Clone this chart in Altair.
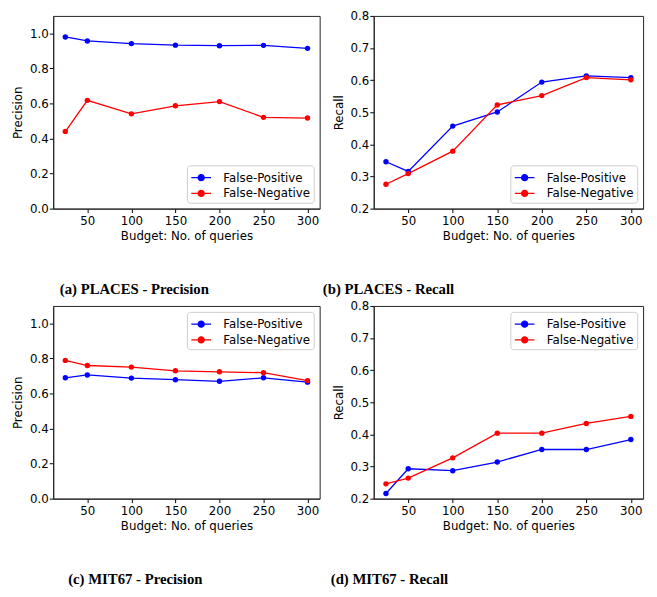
import altair as alt
import pandas as pd

budget = [25, 50, 100, 150, 200, 250, 300]
series = ["False-Positive", "False-Negative"]
colors = ["#0000ff", "#ff0000"]

places_prec_fp = [0.980, 0.957, 0.942, 0.933, 0.930, 0.932, 0.915]
places_prec_fn = [0.440, 0.618, 0.541, 0.587, 0.611, 0.521, 0.517]
places_rec_fp = [0.346, 0.316, 0.457, 0.501, 0.594, 0.613, 0.608]
places_rec_fn = [0.276, 0.309, 0.379, 0.523, 0.552, 0.608, 0.601]
mit_prec_fp = [0.690, 0.706, 0.688, 0.679, 0.670, 0.690, 0.665]
mit_prec_fn = [0.789, 0.760, 0.751, 0.730, 0.724, 0.719, 0.674]
mit_rec_fp = [0.216, 0.293, 0.287, 0.314, 0.353, 0.353, 0.384]
mit_rec_fn = [0.246, 0.264, 0.327, 0.404, 0.404, 0.434, 0.456]

x_ticks = [50, 100, 150, 200, 250, 300]
prec_ticks = [0.0, 0.2, 0.4, 0.6, 0.8, 1.0]
rec_ticks = [0.2, 0.3, 0.4, 0.5, 0.6, 0.7, 0.8]

SYMBOL = "M-1.18,0L1.18,0M-0.36,0A0.36,0.36,0,1,1,0.36,0A0.36,0.36,0,1,1,-0.36,0Z"


def panel(fp, fn, ytitle, ydomain, yticks, orient, caption, dx, width):
    df = pd.DataFrame({
        "budget": budget * 2,
        "value": fp + fn,
        "series": [series[0]] * len(budget) + [series[1]] * len(budget),
    })
    color = alt.Color(
        "series:N",
        scale=alt.Scale(domain=series, range=colors),
        legend=alt.Legend(
            title=None, orient=orient, offset=6, symbolType=SYMBOL,
            symbolSize=289, symbolStrokeWidth=1.3, labelFont="DejaVu Sans",
            labelFontSize=12, labelColor="black", strokeColor="#cccccc",
            fillColor="white", padding=3, cornerRadius=3, rowPadding=0,
            labelOffset=13, symbolOffset=2,
        ),
    )
    x = alt.X("budget:Q", scale=alt.Scale(domain=[11.25, 313.75], nice=False, zero=False),
              axis=alt.Axis(values=x_ticks, title="Budget: No. of queries", format="d",
                            labelPadding=3, titlePadding=4))
    y = alt.Y("value:Q", scale=alt.Scale(domain=ydomain, nice=False, zero=False),
              axis=alt.Axis(values=yticks, title=ytitle, format=".1f", titlePadding=5))
    base = alt.Chart(df).encode(x=x, y=y, color=color, order="budget:Q")
    line = base.mark_line(strokeWidth=1.3)
    pts = base.mark_point(filled=True, size=30, opacity=1)
    return alt.layer(line, pts).properties(
        width=width, height=196,
        title=alt.TitleParams(caption, orient="bottom", anchor="middle", frame="group",
                              dx=dx, offset=42, font="Liberation Serif", fontSize=15,
                              fontWeight="bold", color="black"),
    )


a = panel(places_prec_fp, places_prec_fn, "Precision", [0, 1.1], prec_ticks,
          "bottom-right", "(a) PLACES - Precision", -53, 271)
b = panel(places_rec_fp, places_rec_fn, "Recall", [0.2, 0.8], rec_ticks,
          "bottom-right", "(b) PLACES - Recall", -122, 274)
c = panel(mit_prec_fp, mit_prec_fn, "Precision", [0, 1.1], prec_ticks,
          "top-right", "(c) MIT67 - Precision", -52, 271)
d = panel(mit_rec_fp, mit_rec_fn, "Recall", [0.2, 0.8], rec_ticks,
          "top-right", "(d) MIT67 - Recall", -121, 274)

chart = alt.concat(
    a, b, c, d, columns=2, spacing={"row": 99, "column": 55}, bounds="flush"
).resolve_legend(
    color="independent"
).configure(
    padding={"left": 3, "top": -4, "right": 5, "bottom": 5},
).configure_view(
    stroke="#222222", strokeWidth=1
).configure_axis(
    grid=False, labelFont="DejaVu Sans", labelFontSize=12, labelColor="black",
    titleFont="DejaVu Sans", titleFontSize=12, titleFontWeight="normal",
    titleColor="black", tickColor="black", domainColor="#222222", tickSize=4,
    labelPadding=1, titlePadding=5, labelFlush=False, labelOverlap=False,
)

chart.save("out.html", embed_options={"renderer": "svg", "actions": False})
